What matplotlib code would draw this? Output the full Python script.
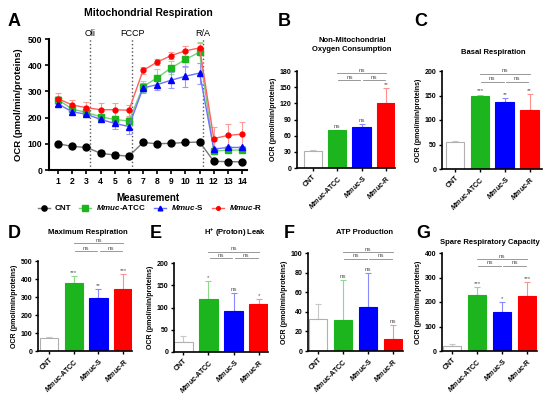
import numpy as np
import matplotlib
matplotlib.use("Agg")
import matplotlib.pyplot as plt

plt.rcParams['font.family'] = ['Liberation Sans', 'DejaVu Sans']
plt.rcParams['font.weight'] = 'bold'
plt.rcParams['mathtext.fontset'] = 'custom'
plt.rcParams['mathtext.it'] = 'Liberation Sans:italic:bold'
plt.rcParams['mathtext.rm'] = 'Liberation Sans:bold'
plt.rcParams['mathtext.bf'] = 'Liberation Sans:bold'

# ---- data ----
measure = np.arange(1, 15)
cnt_ocr = [100, 90, 86, 64, 57, 53, 105, 100, 102, 105, 107, 33, 32, 31]
cnt_err = [5, 5, 5, 12, 12, 10, 8, 5, 5, 5, 5, 3, 3, 3]
atcc_ocr = [268, 232, 220, 203, 193, 187, 318, 352, 390, 422, 450, 72, 76, 76]
atcc_err = [15, 12, 12, 10, 12, 15, 20, 35, 25, 30, 40, 5, 5, 5]
s_ocr = [252, 222, 213, 193, 178, 166, 313, 326, 343, 358, 370, 80, 86, 86]
s_err = [8, 8, 8, 8, 20, 30, 20, 20, 30, 40, 40, 5, 5, 5]
r_ocr = [272, 248, 238, 230, 230, 228, 380, 412, 437, 455, 466, 120, 132, 137]
r_err = [20, 20, 22, 25, 25, 20, 12, 10, 12, 20, 20, 45, 45, 48]
injections = [3.25, 6.25, 11.25]
injection_names = ['Oli', 'FCCP', 'R/A']

group_labels = ['CNT', r'$\it{Mmuc}$-ATCC', r'$\it{Mmuc}$-S', r'$\it{Mmuc}$-R']

nonmito = [32, 70, 76, 120]
nonmito_err = [1, 1, 5, 28]
nonmito_sig = ['', 'ns', 'ns', '**']

basal = [55, 150, 136, 120]
basal_err = [3, 2, 8, 33]
basal_sig = ['', '***', '**', '**']

maxresp = [75, 380, 295, 345]
maxresp_err = [5, 35, 50, 85]
maxresp_sig = ['', '***', '**', '***']

leak = [22, 118, 92, 108]
leak_err = [13, 42, 40, 12]
leak_sig = ['', '*', 'ns', '*']

atp = [33, 32, 45, 12]
atp_err = [15, 40, 35, 15]
atp_sig = ['', 'ns', 'ns', 'ns']

spare = [20, 228, 158, 225]
spare_err = [8, 35, 40, 55]
spare_sig = ['', '***', '*', '***']

bar_colors = ['white', '#1db51d', '#0000ff', '#ff0000']
edge_colors = ['#b0b0b0', '#1db51d', '#0000ff', '#ff0000']
err_colors = ['#c8c8c8', '#8fd88f', '#8a8aff', '#ff9090']

W, H = 550, 395
fig = plt.figure(figsize=(W / 100, H / 100), dpi=100)


def px_axes(x0, y0, x1, y1):
    return fig.add_axes([x0 / W, 1 - y1 / H, (x1 - x0) / W, (y1 - y0) / H])


def style(ax, lw=1.2):
    for s in ['top', 'right']:
        ax.spines[s].set_visible(False)
    for s in ['left', 'bottom']:
        ax.spines[s].set_linewidth(lw)


# ---- panel A ----
ax = px_axes(49, 39, 247, 170)
style(ax, 1.5)
series = [
    (cnt_ocr, cnt_err, 'black', '#777777', '#999999', 'o', 5, 'CNT'),
    (atcc_ocr, atcc_err, '#1db51d', '#77d077', '#9be09b', 's', 5, group_labels[1]),
    (s_ocr, s_err, '#0000ff', '#7070ff', '#9a9aff', '^', 4.5, group_labels[2]),
    (r_ocr, r_err, '#ff0000', '#ff6060', '#ff9a9a', 'o', 3.5, group_labels[3]),
]
for y, e, c, lc, ec, m, ms, lab in series:
    ax.errorbar(measure, y, yerr=e, fmt='none', ecolor=ec, elinewidth=0.8,
                capsize=2.5, capthick=0.8, zorder=2)
    ax.plot(measure, y, color=lc, lw=1.0, marker=m, ms=ms, mfc=c, mec=c,
            zorder=3, label=lab)
for xi, nm in zip(injections, injection_names):
    ax.axvline(xi, color='#555555', ls=':', lw=1.0, zorder=1)
    ax.text(xi, 505, nm, ha='center', va='bottom', fontsize=6.5,
            fontweight='normal')
ax.set_xlim(0.35, 14.35)
ax.set_ylim(0, 500)
ax.set_xticks(measure)
ax.set_yticks([0, 100, 200, 300, 400, 500])
ax.tick_params(labelsize=6.2, width=1.2, length=3, pad=2)
ax.set_xlabel('Measurement', fontsize=7, fontweight='bold', labelpad=5)
ax.set_ylabel('OCR (pmol/min/proteins)', fontsize=6.8, fontweight='bold',
              labelpad=3)
fig.text(148 / W, 1 - 13 / H, 'Mitochondrial Respiration', ha='center',
         va='center', fontsize=7.5, fontweight='bold')
fig.text(8 / W, 1 - 22 / H, 'A', ha='left', va='center', fontsize=13,
         fontweight='bold')
fig.legend(*ax.get_legend_handles_labels(), loc='center',
           bbox_to_anchor=(150 / W, 1 - 208 / H), ncol=4, frameon=False,
           fontsize=5.8, handlelength=1.5, columnspacing=1.0,
           handletextpad=0.6, markerscale=0.75)


# ---- bar panels ----
def bar_panel(rect, vals, errs, sigs, ylim, yticks, xlim, title, title_xy,
              letter, letter_xy, brk):
    ax = px_axes(*rect)
    style(ax, 1.2)
    x = np.arange(len(vals))
    ax.bar(x, vals, width=0.75, color=bar_colors, edgecolor=edge_colors,
           linewidth=0.8, zorder=2)
    for i in range(len(vals)):
        ax.errorbar(x[i], vals[i], yerr=[[0], [errs[i]]], fmt='none',
                    ecolor=err_colors[i], elinewidth=0.8, capsize=2,
                    capthick=0.8, zorder=1)
        if sigs[i]:
            ax.text(x[i], vals[i] + errs[i] + 0.01 * ylim, sigs[i],
                    ha='center', va='bottom', fontsize=4.5,
                    fontweight='normal', color='#555555')
    lo, hi = brk
    for a, b, yy in [(1.05, 1.95, lo), (2.05, 2.95, lo), (1.0, 3.0, hi)]:
        ax.plot([a, b], [yy, yy], color='#888888', lw=0.6, clip_on=False)
        ax.text((a + b) / 2, yy + 0.005 * ylim, 'ns', ha='center',
                va='bottom', fontsize=4.5, fontweight='normal',
                color='#555555', clip_on=False)
    ax.set_xlim(*xlim)
    ax.set_ylim(0, ylim)
    ax.set_yticks(yticks)
    ax.set_xticks(x)
    ax.set_xticklabels(group_labels, rotation=45, ha='right',
                       rotation_mode='anchor')
    ax.tick_params(labelsize=5, width=1.0, length=2.5, pad=1.5)
    ax.set_ylabel('OCR (pmol/min/proteins)', fontsize=5, fontweight='bold',
                  labelpad=2)
    fig.text(title_xy[0] / W, 1 - title_xy[1] / H, title, ha='center',
             va='center', fontsize=5.5, fontweight='bold', linespacing=1.3)
    fig.text(letter_xy[0] / W, 1 - letter_xy[1] / H, letter, ha='left',
             va='center', fontsize=13, fontweight='bold')


bar_panel((297, 71, 395, 168), nonmito, nonmito_err, nonmito_sig, 180,
          [0, 30, 60, 90, 120, 150, 180], (-0.65, 3.37),
          'Non-Mitochondrial\nOxygen Consumption', (352, 45), 'B', (278, 22),
          (163, 176))
bar_panel((442, 71, 542, 169), basal, basal_err, basal_sig, 200,
          [0, 50, 100, 150, 200], (-0.53, 3.5),
          'Basal Respiration', (493, 52), 'C', (414, 22), (178, 194))
bar_panel((38, 261, 132, 351), maxresp, maxresp_err, maxresp_sig, 500,
          [0, 100, 200, 300, 400, 500], (-0.45, 3.36),
          'Maximum Respiration', (88, 233), 'D', (8, 233), (555, 600))
bar_panel((174, 263, 268, 352), leak, leak_err, leak_sig, 200,
          [0, 50, 100, 150, 200], (-0.36, 3.36),
          r'H$^{+}$ (Proton) Leak', (235, 233), 'E', (150, 233), (211, 225))
bar_panel((308, 253, 403, 351), atp, atp_err, atp_sig, 100,
          [0, 20, 40, 60, 80, 100], (-0.4, 3.4),
          'ATP Production', (365, 233), 'F', (284, 233), (94, 101))
bar_panel((442, 253, 537, 351), spare, spare_err, spare_sig, 400,
          [0, 100, 200, 300, 400], (-0.4, 3.4),
          'Spare Respiratory Capacity', (490, 242), 'G', (416, 233),
          (347, 375))

fig.savefig('out.png', dpi=100)
